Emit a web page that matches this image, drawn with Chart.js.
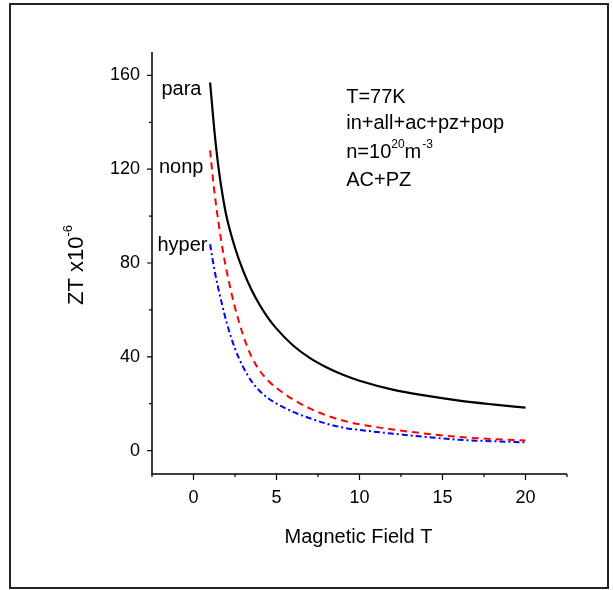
<!DOCTYPE html>
<html>
<head>
<meta charset="utf-8">
<script src="https://cdn.jsdelivr.net/npm/chart.js@4.4.1/dist/chart.umd.min.js"></script>
<style>
  html, body { margin: 0; padding: 0; background: #fff; }
  #wrap { width: 613px; height: 590px; position: relative; }
</style>
</head>
<body>
<div id="wrap"><canvas id="zt"></canvas></div>
<script>
// Magnetic field values (T)
const field = [1, 1.25, 1.5, 1.75, 2, 2.5, 3, 3.5, 4, 4.5, 5, 6, 7, 8, 9, 10, 12, 14, 16, 18, 20]

// ZT x10^-6 for each scattering case
const para  = [157, 137, 121, 109, 99.5, 86.5, 76.5, 68.5, 62, 56.5, 52, 44.8, 39.5, 35.5, 32.3, 29.8, 26, 23.4, 21.3, 19.7, 18.3]
const nonp  = [128, 111, 97.5, 86, 76.5, 61, 49, 40, 34, 29.8, 26.7, 21.8, 18, 15, 12.8, 11.2, 9, 7.2, 5.8, 4.9, 4.3]
const hyper = [88, 77.5, 69, 61.5, 54.5, 43.5, 35.5, 29.5, 25.3, 22.3, 20, 16.5, 13.8, 11.5, 9.8, 8.8, 7.2, 5.8, 4.6, 4, 3.5]

const xTicks = [0, 5, 10, 15, 20]
const yTicks = [0, 40, 80, 120, 160]

const FONT = '"Liberation Sans", Arial, sans-serif'

function points(ys) {
  return ys.map((y, i) => ({ x: field[i], y: y }))
}

// axes, tick marks, frame and text labels
const decor = {
  id: 'decor',
  afterDraw(chart) {
    const ctx = chart.ctx
    const xs = chart.scales.x
    const ys = chart.scales.y
    const area = chart.chartArea
    ctx.save()

    // outer frame
    ctx.strokeStyle = '#222'
    ctx.lineWidth = 2
    ctx.strokeRect(10, 4, 598, 584)

    // axis lines
    ctx.strokeStyle = '#000'
    ctx.lineWidth = 1.5
    ctx.beginPath()
    ctx.moveTo(area.left, area.top)
    ctx.lineTo(area.left, area.bottom)
    ctx.lineTo(area.right, area.bottom)
    ctx.stroke()

    // x tick marks (major every 5, minor every 2.5)
    ctx.lineWidth = 1.2
    ctx.beginPath()
    for (let v = -2.5; v <= 22.5; v += 2.5) {
      const px = xs.getPixelForValue(v)
      const len = (v % 5 === 0) ? 6 : 3
      ctx.moveTo(px, area.bottom)
      ctx.lineTo(px, area.bottom + len)
    }
    // y tick marks (major every 40, minor every 20)
    for (let v = 0; v <= 160; v += 20) {
      const py = ys.getPixelForValue(v)
      const len = (v % 40 === 0) ? 5 : 3
      ctx.moveTo(area.left, py)
      ctx.lineTo(area.left - len, py)
    }
    ctx.stroke()

    ctx.fillStyle = '#000'
    ctx.textBaseline = 'middle'

    // curve labels
    ctx.font = '20px ' + FONT
    ctx.textAlign = 'right'
    ctx.fillText('para', xs.getPixelForValue(0.48), ys.getPixelForValue(154))
    ctx.fillText('nonp', xs.getPixelForValue(0.6), ys.getPixelForValue(120.7))
    ctx.fillText('hyper', xs.getPixelForValue(0.84), ys.getPixelForValue(87.5))

    // conditions block
    ctx.textAlign = 'left'
    const ax = xs.getPixelForValue(9.2)
    ctx.fillText('T=77K', ax, ys.getPixelForValue(150.6))
    ctx.fillText('in+all+ac+pz+pop', ax, ys.getPixelForValue(139.5))
    const ny = ys.getPixelForValue(127)
    let cx = ax
    ctx.fillText('n=10', cx, ny)
    cx += ctx.measureText('n=10').width
    ctx.font = '12px ' + FONT
    ctx.fillText('20', cx, ny - 8)
    cx += ctx.measureText('20').width
    ctx.font = '20px ' + FONT
    ctx.fillText('m', cx, ny)
    cx += ctx.measureText('m').width
    ctx.font = '12px ' + FONT
    ctx.fillText('-3', cx + 1, ny - 8)
    ctx.font = '20px ' + FONT
    ctx.fillText('AC+PZ', ax, ys.getPixelForValue(115.2))

    // x axis title
    ctx.textAlign = 'center'
    ctx.fillText('Magnetic Field T', (area.left + area.right) / 2 - 1, 537)

    // y axis title, rotated, with superscript
    ctx.translate(77, 265)
    ctx.rotate(-Math.PI / 2)
    ctx.textAlign = 'left'
    ctx.font = '22px ' + FONT
    const main = 'ZT x10'
    const w = ctx.measureText(main).width
    ctx.font = '13px ' + FONT
    const sw = ctx.measureText('-6').width
    const start = -(w + sw) / 2
    ctx.font = '22px ' + FONT
    ctx.fillText(main, start, 0)
    ctx.font = '13px ' + FONT
    ctx.fillText('-6', start + w, -9)

    ctx.restore()
  }
}

new Chart(document.getElementById('zt'), {
  type: 'line',
  data: {
    datasets: [
      {
        label: 'para',
        data: points(para),
        borderColor: '#000',
        borderWidth: 2.2,
        pointRadius: 0,
        cubicInterpolationMode: 'monotone'
      },
      {
        label: 'nonp',
        data: points(nonp),
        borderColor: '#ff0000',
        borderWidth: 2,
        borderDash: [7, 5],
        pointRadius: 0,
        cubicInterpolationMode: 'monotone'
      },
      {
        label: 'hyper',
        data: points(hyper),
        borderColor: '#0000ff',
        borderWidth: 2,
        borderDash: [6, 3, 2, 3],
        pointRadius: 0,
        cubicInterpolationMode: 'monotone'
      }
    ]
  },
  options: {
    responsive: true,
    maintainAspectRatio: false,
    animation: false,
    layout: {
      padding: { top: 52, right: 46, left: 0, bottom: 0 }
    },
    plugins: {
      legend: { display: false },
      tooltip: { enabled: false }
    },
    scales: {
      x: {
        type: 'linear',
        min: -2.5,
        max: 22.5,
        grid: { display: false, drawTicks: false, tickLength: 0 },
        border: { display: false },
        afterBuildTicks: scale => { scale.ticks = xTicks.map(v => ({ value: v })) },
        afterFit: scale => { scale.height = 116 },
        ticks: {
          color: '#000',
          padding: 13,
          maxRotation: 0,
          font: { family: FONT, size: 18 }
        }
      },
      y: {
        type: 'linear',
        min: -10,
        max: 170,
        grid: { display: false, drawTicks: false, tickLength: 0 },
        border: { display: false },
        afterBuildTicks: scale => { scale.ticks = yTicks.map(v => ({ value: v })) },
        afterFit: scale => { scale.width = 152 },
        ticks: {
          color: '#000',
          padding: 12,
          font: { family: FONT, size: 18 }
        }
      }
    }
  },
  plugins: [decor]
})
</script>
</body>
</html>
